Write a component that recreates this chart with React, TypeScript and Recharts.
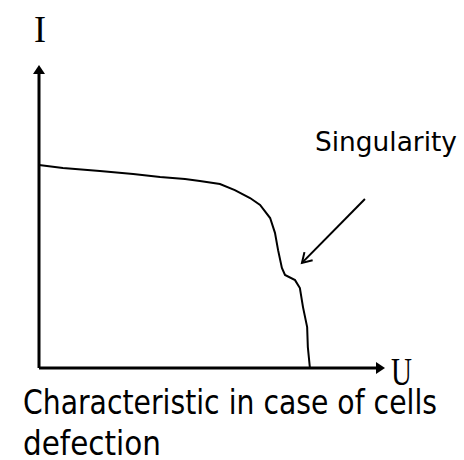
import React from "react";
import { LineChart, Line, XAxis, YAxis, ReferenceLine } from "recharts";

// I–U curve of a panel with defective cells
const voltage = [0, 6.9, 17.6, 27.2, 35.0, 42.2, 46.5, 52.3, 56.6, 61.0, 63.9, 66.8, 68.2, 69.1, 70.2, 71.1, 74.0, 75.4, 76.3, 77.5, 77.7, 78.3];
const current = [67.0, 66.0, 65.0, 64.0, 63.0, 62.4, 61.7, 60.7, 58.7, 56.1, 53.8, 49.5, 44.6, 38.9, 33.0, 30.7, 29.0, 26.4, 20.1, 13.5, 6.9, 0];

// pointer from the note to the kink in the curve
const pointerFrom = { u: 94.2, i: 55.8 };
const pointerTo = { u: 76.0, i: 34.7 };

const axisMax = 100;

const data = voltage.map((u, k) => ({ u, i: current[k] }));

const W = 464;
const H = 460;
const FONT = "'DejaVu Sans', sans-serif";

function axisArrow(props: any) {
  const { x1, y1, x2, y2 } = props;
  const ang = Math.atan2(y2 - y1, x2 - x1);
  const len = 9;
  const half = 6;
  const bx = x2 - len * Math.cos(ang);
  const by = y2 - len * Math.sin(ang);
  const px = -Math.sin(ang) * half;
  const py = Math.cos(ang) * half;
  return (
    <g>
      <line x1={x1} y1={y1} x2={bx} y2={by} stroke="#000" strokeWidth={3} />
      <polygon
        points={`${x2},${y2} ${bx + px},${by + py} ${bx - px},${by - py}`}
        fill="#000"
      />
    </g>
  );
}

function openArrow(props: any) {
  const { x1, y1, x2, y2 } = props;
  const ang = Math.atan2(y2 - y1, x2 - x1);
  const len = 11;
  const spread = 0.55;
  const a1 = ang + Math.PI - spread;
  const a2 = ang + Math.PI + spread;
  return (
    <g stroke="#000" strokeWidth={2} fill="none">
      <line x1={x1} y1={y1} x2={x2} y2={y2} />
      <polyline
        points={`${x2 + len * Math.cos(a1)},${y2 + len * Math.sin(a1)} ${x2},${y2} ${x2 + len * Math.cos(a2)},${y2 + len * Math.sin(a2)}`}
      />
    </g>
  );
}

export default function App() {
  return (
    <div style={{ position: "absolute", left: 0, top: 0, width: W, height: H, background: "#fff" }}>
      <LineChart
        width={W}
        height={H}
        data={data}
        margin={{ top: 65, left: 39, right: 79, bottom: 92 }}
        style={{ position: "absolute", left: 0, top: 0 }}
      >
        <XAxis type="number" dataKey="u" domain={[0, axisMax]} hide />
        <YAxis type="number" domain={[0, axisMax]} hide />
        <ReferenceLine
          segment={[{ x: 0, y: 0 }, { x: 0, y: axisMax }]}
          ifOverflow="visible"
          shape={axisArrow}
        />
        <ReferenceLine
          segment={[{ x: 0, y: 0 }, { x: axisMax, y: 0 }]}
          ifOverflow="visible"
          shape={axisArrow}
        />
        <ReferenceLine
          segment={[{ x: pointerFrom.u, y: pointerFrom.i }, { x: pointerTo.u, y: pointerTo.i }]}
          ifOverflow="visible"
          shape={openArrow}
        />
        <Line
          type="linear"
          dataKey="i"
          stroke="#000"
          strokeWidth={2}
          dot={false}
          isAnimationActive={false}
        />
      </LineChart>
      <svg
        width={W}
        height={H}
        style={{ position: "absolute", left: 0, top: 0, pointerEvents: "none" }}
      >
        <text x={34} y={42} fontFamily="'Liberation Serif', serif" fontSize={38} textLength={12} lengthAdjust="spacingAndGlyphs">I</text>
        <text x={391} y={385} fontFamily="'Liberation Serif', serif" fontSize={39} textLength={21} lengthAdjust="spacingAndGlyphs">U</text>
        <text x={315} y={151} fontFamily={FONT} fontSize={26} textLength={142} lengthAdjust="spacingAndGlyphs">Singularity</text>
        <text x={23} y={414} fontFamily={FONT} fontSize={33} textLength={414} lengthAdjust="spacingAndGlyphs">Characteristic in case of cells</text>
        <text x={23} y={455} fontFamily={FONT} fontSize={33} textLength={138} lengthAdjust="spacingAndGlyphs">defection</text>
      </svg>
    </div>
  );
}
